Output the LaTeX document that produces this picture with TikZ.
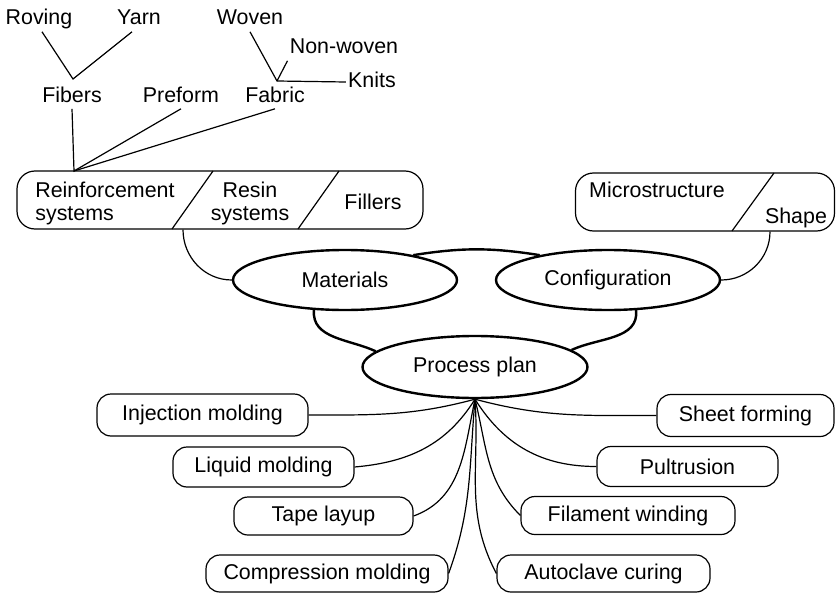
\documentclass[tikz,border=0pt]{standalone}
\usepackage{fontspec}
\setmainfont{Liberation Sans}
\usetikzlibrary{shapes.geometric}
\begin{document}
\begin{tikzpicture}[x=0.5pt,y=-0.5pt,
	every node/.style={font=\fontsize{10.7pt}{12pt}\selectfont},
	word/.style={inner sep=1pt,text height=.72em,text depth=.22em},
	stage/.style={draw,line width=1.2pt,ellipse,minimum width=112pt,minimum height=30pt,inner sep=0pt},
	proc/.style={draw,line width=.6pt,rounded corners=7pt,minimum height=20pt,inner sep=0pt},
	group/.style={draw,line width=.6pt,rounded corners=9pt,minimum height=29pt,inner sep=0pt},
	link/.style={line width=.6pt},
	bond/.style={line width=1.2pt}]
	\useasboundingbox (0,0) rectangle (836,594);
	% raw forms
	\node[word,anchor=base] (roving) at (39,25) {Roving};
	\node[word,anchor=base] (yarn) at (139,25) {Yarn};
	\node[word,anchor=base] (woven) at (250,25) {Woven};
	\node[word,anchor=base] (nonwoven) at (344,54) {Non-woven};
	\node[word,anchor=base] (knits) at (372,87) {Knits};
	\node[word,anchor=base] (fibers) at (72,102) {Fibers};
	\node[word,anchor=base] (preform) at (181,102) {Preform};
	\node[word,anchor=base] (fabric) at (275,102) {Fabric};
	\coordinate (fibjoin) at (73,79);
	\coordinate (fabjoin) at (277,81);
	\coordinate (root) at (74,171);
	\draw[link] ([xshift=1.5pt]roving.south) -- (fibjoin) -- ([xshift=-3.5pt]yarn.south);
	\draw[link] (woven.south) -- (fabjoin) -- (knits.west);
	\draw[link] (fabjoin) -- (nonwoven.south west);
	\draw[link] (fibers.south) -- (root) -- (preform.south);
	\draw[link] (root) -- (fabric.south);
	% groups
	\node[group,minimum width=203pt] (reinf) at (220,200) {};
	\draw[link] (213,171) -- (172,229);
	\draw[link] (339,171) -- (298,229);
	\node[word,anchor=base west] (reinfa) at (33,197) {Reinforcement};
	\node[word,anchor=base west] (reinfb) at (33,220) {systems};
	\node[word,anchor=base] (resina) at (250,197) {Resin};
	\node[word,anchor=base] (resinb) at (250,220) {systems};
	\node[word,anchor=base] (fillers) at (373,209) {Fillers};
	\node[group,minimum width=129.5pt] (micro) at (705,202) {};
	\draw[link] (774,173) -- (732,231);
	\node[word,anchor=base] (microtxt) at (657,197) {Microstructure};
	\node[word,anchor=base] (shape) at (796,223) {Shape};
	% stages
	\node[stage] (mat) at (345,280) {Materials};
	\node[stage] (conf) at (608,280) {Configuration};
	\node[stage,minimum width=112.5pt,minimum height=31pt] (plan) at (475,367) {Process plan};
	\draw[bond] (mat.20) to[bend left=9] (conf.160);
	\draw[bond] (mat.224) to[out=-95,in=155] (plan.171);
	\draw[bond] (conf.-47) to[out=-85,in=25] (plan.10);
	\draw[link] ([xshift=-18.5pt]reinf.south) to[out=-90,in=180] (mat.west);
	\draw[link] ([xshift=32.5pt]micro.south) to[out=-90,in=0] (conf.east);
	% processes
	\node[proc,minimum width=105.5pt,minimum height=21pt] (inj) at (202.5,415) {Injection molding};
	\node[proc,minimum width=88.5pt,minimum height=21pt] (sheet) at (745.5,415.5) {Sheet forming};
	\node[proc,minimum width=90.5pt] (liquid) at (263.5,467) {Liquid molding};
	\node[proc,minimum width=90.5pt] (pult) at (687.5,466.5) {Pultrusion};
	\node[proc,minimum width=89.5pt,minimum height=19pt] (tape) at (323.5,516) {Tape layup};
	\node[proc,minimum width=107pt,minimum height=19pt] (filament) at (628,515.5) {Filament winding};
	\node[proc,minimum width=121pt,minimum height=18.5pt] (comp) at (327,573.5) {Compression molding};
	\node[proc,minimum width=106.5pt,minimum height=18.5pt] (auto) at (603.5,573.5) {Autoclave curing};
	\foreach \dst/\o/\i in {inj.east/195/0, liquid.east/238/5, tape.east/258/20, comp.east/265/70,
		sheet.west/-15/180, pult.west/-58/180, filament.west/-76/135, auto.west/-86/118}
		\draw[link] (plan.south) to[out=\o,in=\i] (\dst);
\end{tikzpicture}
\end{document}
